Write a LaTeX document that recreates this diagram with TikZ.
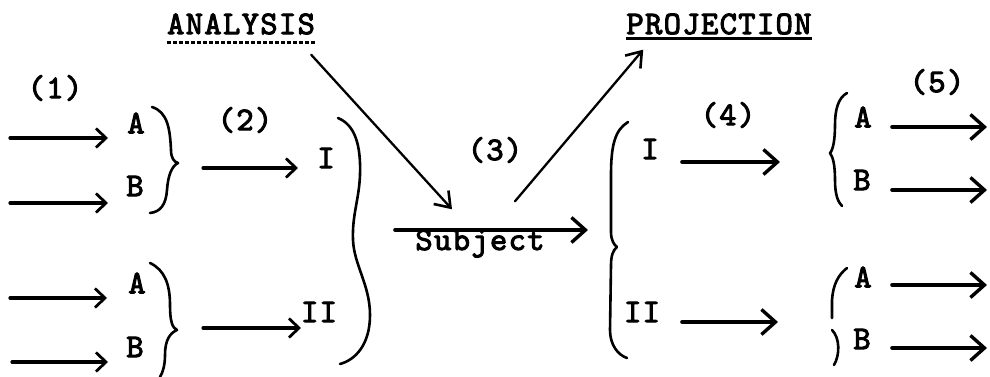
\documentclass[tikz,border=0pt]{standalone}
\usepackage{fontspec}
\newfontfamily\tw{lmmono10-regular.otf}[FakeBold=3,LetterSpace=4]
\usetikzlibrary{arrows.meta}
\begin{document}
\begin{tikzpicture}[x=1pt,y=-1pt,
  lbl/.style={font=\tw\fontsize{33}{33}\selectfont, inner sep=0pt},
  arr/.style={line width=3.6pt, line cap=round, -{Straight Barb[length=14pt,width=25pt,line width=3.4pt]}},
  arrsmall/.style={line width=3.2pt, line cap=round, -{Straight Barb[length=10pt,width=19pt,line width=2.8pt]}},
  thinarr/.style={line width=2.3pt, line cap=round, -{Straight Barb[length=14pt,width=20pt,line width=2.6pt]}},
  brace/.style={line width=2.6pt, line cap=round, line join=round}]
\useasboundingbox (0,0) rectangle (990,377);

% headings
\node[lbl] (ana) at (241,24) {ANALYSIS};
\node[lbl] (proj) at (719,24) {PROJECTION};
\draw[line width=2.6pt, dash pattern=on 4pt off 2pt] ([shift={(0,8)}]ana.south west) -- ([shift={(0,8)}]ana.south east);
\draw[line width=2.8pt] ([shift={(0,4)}]proj.south west) -- ([shift={(0,4)}]proj.south east);

% step numbers
\node[lbl] (n1) at (55,88) {(1)};
\node[lbl] (n2) at (245,120) {(2)};
\node[lbl] (n3) at (495,150) {(3)};
\node[lbl] (n4) at (728,115) {(4)};
\node[lbl] (n5) at (937,82) {(5)};

% left labels
\node[lbl] (a1) at (136,123) {A};
\node[lbl] (b1) at (135,186) {B};
\node[lbl] (a2) at (137,283) {A};
\node[lbl] (b2) at (135,347) {B};
\node[lbl] (i1) at (326,158) {I};
\node[lbl] (ii1) at (319,312) {II};

% subject
\node[lbl, anchor=base] (subj) at (480,250) {Subject};

% right labels
\node[lbl] (i2) at (650,149) {I};
\node[lbl] (ii2) at (642,312) {II};
\node[lbl] (a3) at (863,117) {A};
\node[lbl] (b3) at (862,180) {B};
\node[lbl] (a4) at (863,277) {A};
\node[lbl] (b4) at (862,339) {B};

% free ends of arrows
\coordinate (s1a) at (10,138);  \coordinate (e1a) at (108,138);
\coordinate (s1b) at (10,203);  \coordinate (e1b) at (108,203);
\coordinate (s1c) at (10,298);  \coordinate (e1c) at (107,298);
\coordinate (s1d) at (12,362);  \coordinate (e1d) at (108,362);
\coordinate (s2a) at (203,168); \coordinate (e2a) at (298,168);
\coordinate (s2b) at (203,328); \coordinate (e2b) at (301,328);
\coordinate (s3) at (395,230);  \coordinate (e3) at (588,230);
\coordinate (s4a) at (682,162); \coordinate (e4a) at (780,162);
\coordinate (s4b) at (682,322); \coordinate (e4b) at (778,322);
\coordinate (s5a) at (892,127); \coordinate (e5a) at (987,127);
\coordinate (s5b) at (892,190); \coordinate (e5b) at (987,190);
\coordinate (s5c) at (892,285); \coordinate (e5c) at (987,285);
\coordinate (s5d) at (892,348); \coordinate (e5d) at (987,348);

\draw[arrsmall] (s1a) -- (e1a);
\draw[arrsmall] (s1b) -- (e1b);
\draw[arrsmall] (s1c) -- (e1c);
\draw[arrsmall] (s1d) -- (e1d);
\draw[arrsmall] (s2a) -- (e2a);
\draw[arrsmall] (s2b) -- (e2b);
\draw[arr] (s3) -- (e3);
\draw[arr] (s4a) -- (e4a);
\draw[arr] (s4b) -- (e4b);
\draw[arr] (s5a) -- (e5a);
\draw[arr] (s5b) -- (e5b);
\draw[arr] (s5c) -- (e5c);
\draw[arr] (s5d) -- (e5d);

% analysis / projection arrows
\draw[thinarr] ([shift={(-4,20)}]ana.south east) -- ([shift={(-28,-20)}]subj.north);
\draw[thinarr] ([shift={(35,-28)}]subj.north) -- ([shift={(17,15)}]proj.south west);

% braces
\draw[brace] (152,107) .. controls (168,112) and (170,130) .. (171,150)
  .. controls (171,158) and (174,162) .. (178,163)
  .. controls (172,166) and (168,175) .. (167,190)
  .. controls (166,205) and (160,212) .. (150,213);
\draw[brace] (150,263) .. controls (165,270) and (170,285) .. (170,305)
  .. controls (170,320) and (172,328) .. (177,330)
  .. controls (170,333) and (165,340) .. (165,355)
  .. controls (165,365) and (163,372) .. (160,377);
\draw[brace] (338,118) .. controls (355,125) and (361,145) .. (360,175)
  .. controls (359,200) and (352,215) .. (353,240)
  .. controls (354,265) and (370,285) .. (370,315)
  .. controls (370,345) and (355,360) .. (340,364);
\draw[brace] (628,122) .. controls (615,130) and (611,145) .. (611,175)
  -- (611,232) .. controls (611,240) and (614,245) .. (617,247)
  .. controls (613,250) and (611,256) .. (611,265)
  -- (610,330) .. controls (610,345) and (618,355) .. (627,358);
\draw[brace] (847,93) .. controls (838,98) and (835,110) .. (835,125)
  .. controls (835,140) and (833,150) .. (830,153)
  .. controls (833,157) and (835,165) .. (835,180)
  .. controls (835,195) and (838,202) .. (842,206);
\draw[brace] (847,268) .. controls (838,275) and (833,285) .. (832,300) -- (832,318);
\draw[brace] (832,330) .. controls (840,338) and (840,355) .. (834,365);
\end{tikzpicture}
\end{document}
